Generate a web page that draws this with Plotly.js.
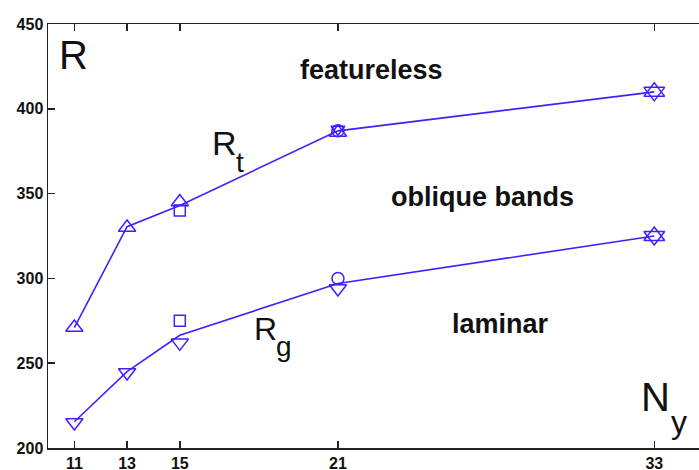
<!DOCTYPE html>
<html><head><meta charset="utf-8">
<script src="https://cdn.plot.ly/plotly-3.0.1.min.js"></script>
<style>html,body{margin:0;padding:0;overflow:hidden;background:#fff}#chart{width:720px;height:470px}</style>
</head><body><div id="chart"></div><script>
// Data
const ny = [11, 13, 15, 21, 33];
const rtCurve = [271, 330.5, 343, 387, 410];
const rgCurve = [215.5, 245, 266.5, 297, 325];

const rtTriUpX = [11, 13, 15, 21];
const rtTriUpY = [271, 330, 345, 386];
const rtTriDownX = [21];
const rtTriDownY = [388];
const rtSquareX = [15];
const rtSquareY = [340];
const rtCircleX = [21];
const rtCircleY = [387];

const rgTriDownX = [11, 13, 15, 21];
const rgTriDownY = [215, 244.5, 262, 294];
const rgSquareX = [15];
const rgSquareY = [275];
const rgCircleX = [21];
const rgCircleY = [300];

const starX = [33, 33];
const starY = [410, 325];

const tickVals = [11, 13, 15, 21, 33];

const blue = 'rgb(64,32,255)';
function mk(x, y, sym, size) {
  return {x: x, y: y, type: 'scatter', mode: 'markers', hoverinfo: 'skip',
    marker: {symbol: sym, size: size, color: blue, line: {color: blue, width: 1.5}}};
}
const traces = [
  {x: ny, y: rtCurve, type: 'scatter', mode: 'lines', line: {color: blue, width: 1.6}, hoverinfo: 'skip'},
  {x: ny, y: rgCurve, type: 'scatter', mode: 'lines', line: {color: blue, width: 1.6}, hoverinfo: 'skip'},
  mk(rtTriUpX, rtTriUpY, 'triangle-up-open', 15),
  mk(rtTriDownX, rtTriDownY, 'triangle-down-open', 12),
  mk(rtSquareX, rtSquareY, 'square-open', 11),
  mk(rtCircleX, rtCircleY, 'circle-open', 12),
  mk(rgTriDownX, rgTriDownY, 'triangle-down-open', 15),
  mk(rgSquareX, rgSquareY, 'square-open', 11),
  mk(rgCircleX, rgCircleY, 'circle-open', 12),
  mk(starX, starY, 'triangle-up-open', 18),
  mk(starX, starY, 'triangle-down-open', 18)
];

const F = 'Liberation Sans, Arial, Helvetica, sans-serif';
function ann(text, x, y, size, bold) {
  return {text: text, x: x, y: y, xref: 'x', yref: 'y', showarrow: false,
    xanchor: 'center', yanchor: 'middle',
    font: {family: F, size: size, color: '#111', weight: bold ? 'bold' : 'normal'}};
}
const axisCommon = {
  ticks: 'inside', ticklen: 7, tickwidth: 1.5, tickcolor: '#222',
  showline: true, linecolor: '#222', linewidth: 1.5, mirror: 'ticks',
  showgrid: false, zeroline: false,
  tickfont: {family: F, size: 16, color: '#111', weight: 'bold'}
};
const layout = {
  width: 720, height: 470,
  margin: {l: 48, r: 13, t: 24, b: 22},
  paper_bgcolor: '#fff', plot_bgcolor: '#fff',
  showlegend: false,
  xaxis: Object.assign({}, axisCommon, {range: [10, 35], tickvals: tickVals}),
  yaxis: Object.assign({}, axisCommon, {range: [200, 450], dtick: 50, tick0: 200}),
  annotations: [
    ann('R', 10.97, 431.7, 40, false),
    ann('featureless', 22.29, 423, 27, true),
    ann('R', 16.71, 380.1, 34, false),
    ann('t', 17.30, 368.3, 28, false),
    ann('oblique bands', 26.48, 348, 27, true),
    ann('R', 18.25, 270.2, 32, false),
    ann('g', 18.97, 260.1, 28, false),
    ann('laminar', 27.15, 273.4, 27, true),
    ann('N', 33.05, 229.8, 40, false),
    ann('y', 33.92, 215.3, 32, false)
  ]
};
Plotly.newPlot('chart', traces, layout, {staticPlot: true, displayModeBar: false});
</script></body></html>
